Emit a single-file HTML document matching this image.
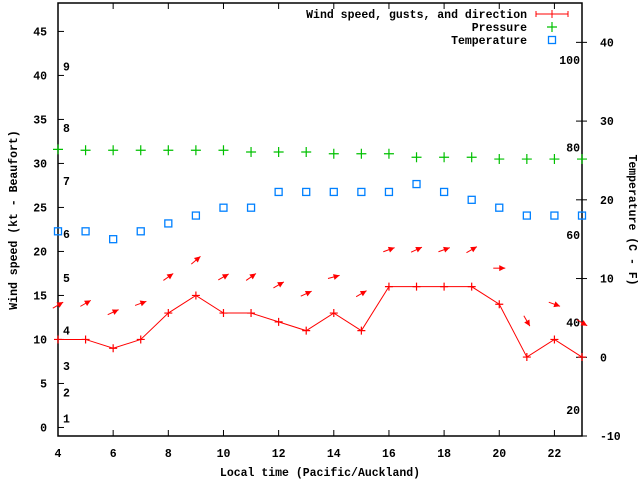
<!DOCTYPE html>
<html><head><meta charset="utf-8"><style>
body{margin:0;background:#fff}
svg text{font-family:"Liberation Mono",monospace;font-weight:bold;font-size:11.5px;fill:#000}
</style></head><body>
<svg id="chart" width="640" height="480" xmlns="http://www.w3.org/2000/svg"></svg>
<script>
const hours=[4,5,6,7,8,9,10,11,12,13,14,15,16,17,18,19,20,21,22,23];
const windSpeed=[10,10,9,10,13,15,13,13,12,11,13,11,16,16,16,16,14,8,10,8];
const gusts=[13.9,14.1,13.1,14.1,17.1,19,17.1,17.1,16.2,15.2,17.1,15.2,20.2,20.2,20.2,20.2,18.1,12.1,14,11.9];
const windDir=[240,240,245,250,235,230,240,235,240,245,255,240,250,245,250,240,270,330,290,300];
const pressure=[31.6,31.5,31.5,31.5,31.5,31.5,31.5,31.3,31.3,31.3,31.1,31.1,31.1,30.7,30.7,30.7,30.5,30.5,30.5,30.5];
const temperature=[16,16,15,16,17,18,19,19,21,21,21,21,21,22,21,20,19,18,18,18];
const xTicks=[4,6,8,10,12,14,16,18,20,22];
const yTicks=[0,5,10,15,20,25,30,35,40,45];
const tTicks=[-10,0,10,20,30,40];
const beaufortKt=[1,4,7,11,17,22,28,34,41];
const beaufortLabels=["1","2","3","4","5","6","7","8","9"];
const fTicks=[20,40,60,80,100];

const L=58,R=582,T=3,B=436;
const X=h=>L+(h-4)*(R-L)/19;
const Y=v=>B-(v+0.97)*(B-T)/49.2;
const YT=c=>B-(c+10)*(B-T)/55;
const svg=document.getElementById('chart');
const NS='http://www.w3.org/2000/svg';
function mk(tag,attrs,parent){const e=document.createElementNS(NS,tag);for(const k in attrs)e.setAttribute(k,attrs[k]);(parent||svg).appendChild(e);return e;}
function txt(x,y,s,anchor,name,extra){const e=mk('text',Object.assign({x:x,y:y,'text-anchor':anchor||'start'},extra||{}));e.textContent=s;


return e;}

// frame
const frame=mk('rect',{x:L,y:T,width:R-L,height:B-T,fill:'none',stroke:'#000','stroke-width':1.5});



xTicks.forEach(h=>{
  const t=mk('path',{d:`M${X(h)} ${B}v-6M${X(h)} ${T}v6`,stroke:'#000'});
  
  
  txt(X(h),457,String(h),'middle','x-tick-label');
});
yTicks.forEach(v=>{
  const t=mk('path',{d:`M${L} ${Y(v)}h6`,stroke:'#000'});
  
  
  txt(47,Y(v)+4,String(v),'end','y-tick-label');
});
tTicks.forEach(c=>{
  const t=mk('path',{d:`M${R-6} ${YT(c)}h11`,stroke:'#000'});
  
  
  txt(600,YT(c)+4,String(c),'start','temp-tick-label');
});
beaufortKt.forEach((k,i)=>txt(63,Y(k)+4,beaufortLabels[i],'start','beaufort-label'));
fTicks.forEach(f=>txt(580,YT((f-32)*5/9)+4,String(f),'end','fahrenheit-label'));

txt(320,476,'Local time (Pacific/Auckland)','middle','x-axis-title');
txt(17,220,'Wind speed (kt - Beaufort)','middle','y-axis-title',{transform:'rotate(-90 17 220)'});
txt(629,220,'Temperature (C - F)','middle','y2-axis-title',{transform:'rotate(90 629 220)'});

// wind line
const pts=hours.map((h,i)=>X(h)+','+Y(windSpeed[i])).join(' ');
const wl=mk('polyline',{points:pts,fill:'none',stroke:'#f00','stroke-width':1});


hours.forEach((h,i)=>{
  const m=mk('path',{d:`M${X(h)-4} ${Y(windSpeed[i])}h8M${X(h)} ${Y(windSpeed[i])-4}v8`,stroke:'#f00','stroke-width':1.2});
  
  
});
// gust arrows
hours.forEach((h,i)=>{
  const a=(windDir[i]+180)*Math.PI/180; // pointing direction (bearing)
  const dx=Math.sin(a),dy=-Math.cos(a);
  const cx=X(h),cy=Y(gusts[i]),len=12;
  const x1=cx-dx*len/2,y1=cy-dy*len/2,x2=cx+dx*len/2,y2=cy+dy*len/2;
  const g=mk('g',{});
  
  
  mk('line',{x1:x1,y1:y1,x2:x2,y2:y2,stroke:'#f00','stroke-width':1},g);
  const px=-dy,py=dx;
  mk('polygon',{points:`${x2},${y2} ${x2-dx*6+px*3},${y2-dy*6+py*3} ${x2-dx*6-px*3},${y2-dy*6-py*3}`,fill:'#f00'},g);
});
// pressure
hours.forEach((h,i)=>{
  const m=mk('path',{d:`M${X(h)-5} ${Y(pressure[i])}h10M${X(h)} ${Y(pressure[i])-5}v10`,stroke:'#00c000','stroke-width':1.2});
  
  
});
// temperature
hours.forEach((h,i)=>{
  const m=mk('rect',{x:X(h)-3.5,y:YT(temperature[i])-3.5,width:7,height:7,fill:'none',stroke:'#0080ff','stroke-width':1.3});
  
  
});
// legend
txt(527,18,'Wind speed, gusts, and direction','end','legend-wind-label');
txt(527,31,'Pressure','end','legend-pressure-label');
txt(527,44,'Temperature','end','legend-temperature-label');
const lw=mk('path',{d:'M536 14h32M536 11v6M568 11v6M552 10v8',stroke:'#f00','stroke-width':1});


const lp=mk('path',{d:'M547 27h10M552 22v10',stroke:'#00c000','stroke-width':1.2});


const lt=mk('rect',{x:548.5,y:36.5,width:7,height:7,fill:'none',stroke:'#0080ff','stroke-width':1.3});


</script>
</body></html>
